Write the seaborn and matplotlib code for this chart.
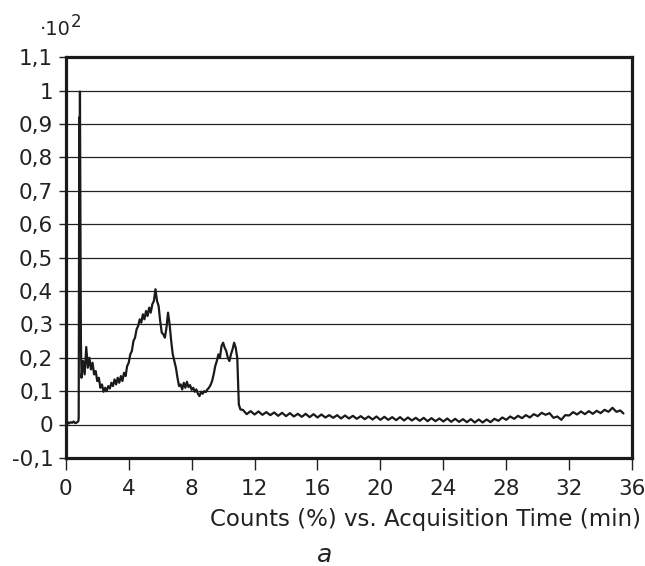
import numpy as np
import pandas as pd
import matplotlib
matplotlib.use("Agg")
import matplotlib.pyplot as plt
from matplotlib.ticker import FuncFormatter, MultipleLocator
import seaborn as sns

# chromatogram trace (time in min, counts in units of 10^2 %)
time_front = [0.0, 0.1, 0.2, 0.3, 0.4, 0.5, 0.6, 0.7, 0.8,
              0.82, 0.86, 0.88, 0.90, 0.93, 0.96, 1.0]
counts_front = [0.004, 0.008, 0.003, 0.007, 0.005, 0.009, 0.004, 0.006, 0.010,
                0.020, 0.920, 0.550, 0.997, 0.600, 0.250, 0.140]

time_peaks = [round(1.1 + 0.1 * i, 1) for i in range(100)]
counts_peaks = [
    0.190, 0.150, 0.232, 0.170, 0.200, 0.165, 0.185, 0.150, 0.160, 0.130,
    0.140, 0.110, 0.120, 0.098, 0.110, 0.100, 0.115, 0.108, 0.125, 0.115,
    0.135, 0.120, 0.140, 0.125, 0.145, 0.130, 0.155, 0.145, 0.175, 0.185,
    0.210, 0.220, 0.250, 0.260, 0.285, 0.295, 0.315, 0.305, 0.330, 0.315,
    0.340, 0.325, 0.350, 0.335, 0.360, 0.370, 0.405, 0.370, 0.355, 0.310,
    0.275, 0.270, 0.260, 0.290, 0.335, 0.300, 0.250, 0.210, 0.190, 0.170,
    0.140, 0.115, 0.120, 0.105, 0.125, 0.110, 0.128, 0.112, 0.118, 0.104,
    0.110, 0.098, 0.105, 0.092, 0.085, 0.098, 0.092, 0.100, 0.097, 0.105,
    0.110, 0.118, 0.130, 0.150, 0.175, 0.190, 0.210, 0.200, 0.235, 0.245,
    0.230, 0.220, 0.200, 0.190, 0.210, 0.225, 0.245, 0.230, 0.200, 0.060,
]

time_tail = [11.1] + [11.25 + 0.25 * i for i in range(97)] + [35.45]
counts_tail = [
    0.045,
    0.044, 0.031, 0.040, 0.030, 0.039, 0.029, 0.037, 0.028, 0.036, 0.026,
    0.035, 0.025, 0.034, 0.024, 0.032, 0.023, 0.032, 0.022, 0.031, 0.021,
    0.030, 0.021, 0.028, 0.020, 0.028, 0.018, 0.027, 0.018, 0.026, 0.017,
    0.025, 0.016, 0.024, 0.015, 0.024, 0.014, 0.023, 0.014, 0.022, 0.013,
    0.022, 0.012, 0.021, 0.012, 0.020, 0.011, 0.020, 0.010, 0.019, 0.010,
    0.018, 0.009, 0.018, 0.008, 0.017, 0.008, 0.016, 0.007, 0.016, 0.006,
    0.015, 0.006, 0.015, 0.007, 0.017, 0.011, 0.021, 0.014, 0.024, 0.017,
    0.026, 0.019, 0.028, 0.021, 0.031, 0.025, 0.035, 0.029, 0.034, 0.020,
    0.024, 0.014, 0.028, 0.027, 0.037, 0.030, 0.039, 0.031, 0.040, 0.032,
    0.041, 0.034, 0.044, 0.038, 0.050, 0.038, 0.042,
    0.033,
]

x_ticks = [0, 4, 8, 12, 16, 20, 24, 28, 32, 36]

df = pd.DataFrame({
    "time": time_front + time_peaks + time_tail,
    "counts": counts_front + counts_peaks + counts_tail,
})

sns.set_theme(style="white")
plt.rcParams["font.family"] = ["DejaVu Sans"]

INK = "#222222"
fig = plt.figure(figsize=(6.45, 5.66), dpi=100)
ax = fig.add_axes([0.102, 0.191, 0.878, 0.708])

sns.lineplot(data=df, x="time", y="counts", ax=ax, color="#1a1a1a",
             linewidth=1.6, estimator=None, sort=False)

ax.set_xlim(0, 36)
ax.set_ylim(-0.1, 1.1)
ax.set_xticks(x_ticks)
ax.yaxis.set_major_locator(MultipleLocator(0.1))


def comma(v, pos):
    s = f"{v:.1f}"
    if s.endswith(".0"):
        s = s[:-2]
    if s == "-0":
        s = "0"
    return s.replace(".", ",")


ax.yaxis.set_major_formatter(FuncFormatter(comma))
ax.yaxis.grid(True, color=INK, linewidth=0.9)
ax.xaxis.grid(False)
ax.tick_params(axis="x", direction="out", length=8.5, width=1, color=INK,
               labelsize=15.5, labelcolor=INK, pad=6.5, bottom=True)
ax.tick_params(axis="y", direction="out", length=5, width=1, color=INK,
               labelsize=15.5, labelcolor=INK, pad=4, left=True)
for sp in ax.spines.values():
    sp.set_color("#1a1a1a")
    sp.set_linewidth(2.3)

ax.set_xlabel("")
ax.set_ylabel("")
fig.text(0.994, 0.071, "Counts (%) vs. Acquisition Time (min)", ha="right",
         va="baseline", fontsize=16.5, color=INK)
# the "x10^2" multiplier above the y axis
fig.text(0.062, 0.938, "·10", ha="left", va="baseline", fontsize=14, color=INK)
fig.text(0.109, 0.952, "2", ha="left", va="baseline", fontsize=12, color=INK)
fig.text(0.504, 0.019, "a", ha="center", va="center", fontsize=18, style="italic",
         color=INK)

fig.savefig("out.png", dpi=100)
